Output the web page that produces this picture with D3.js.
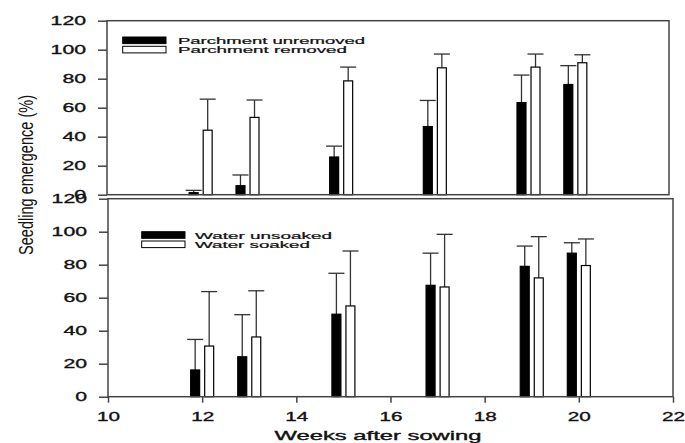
<!DOCTYPE html>
<html>
<head>
<meta charset="utf-8">
<script src="https://cdn.jsdelivr.net/npm/d3@7"></script>
<style>
  html, body { margin: 0; padding: 0; background: #fff; }
  svg { display: block; }
  text { font-family: "Liberation Sans", Arial, sans-serif; fill: #111; }
</style>
</head>
<body>
<svg id="chart" width="685" height="443"></svg>
<script>
// ---- Data ----
const weeks = [12, 13, 15, 17, 19, 20];
const yTicks = [0, 20, 40, 60, 80, 100, 120];
const xTicks = [10, 12, 14, 16, 18, 20, 22];

const parchUnremoved    = [1.4, 6.2, 26, 47, 63.5, 76];
const parchUnremovedErr = [1.6, 7.4, 7.5, 18, 19, 13];
const parchRemoved      = [44.5, 53.3, 78.5, 87.5, 88, 91];
const parchRemovedErr   = [21.4, 12, 9.5, 9.5, 9, 5.5];

const waterUnsoaked     = [16.2, 24.2, 50, 67.5, 79, 87];
const waterUnsoakedErr  = [18.5, 25.5, 24.8, 19.5, 12.3, 6.3];
const waterSoaked       = [30.7, 36.2, 55, 66.5, 72, 79.5];
const waterSoakedErr    = [33, 28, 33.3, 31.9, 25, 16.1];

const seriesNames = ["a", "b"];
const legendTop = ["Parchment unremoved", "Parchment removed"];
const legendBot = ["Water unsoaked", "Water soaked"];
const xTitle = "Weeks after sowing";
const yTitle = "Seedling emergence (%)";

// ---- Layout ----
const svg = d3.select("#chart");
const stroke = "#333";

const panels = [
  {
    x: d3.scaleLinear().domain([10, 22]).range([107, 669]),
    y: d3.scaleLinear().domain([0, 120]).range([194.7, 20.7]),
    series: [
      { vals: parchUnremoved, err: parchUnremovedErr, fill: "#000" },
      { vals: parchRemoved, err: parchRemovedErr, fill: "#fff" }
    ],
    legend: legendTop, legendX: 122.7, legendY: 37, textX: 178,
    legendLen: [187, 169],
    xAxis: false
  },
  {
    x: d3.scaleLinear().domain([10, 22]).range([108, 673]),
    y: d3.scaleLinear().domain([0, 120]).range([396.7, 198.7]),
    series: [
      { vals: waterUnsoaked, err: waterUnsoakedErr, fill: "#000" },
      { vals: waterSoaked, err: waterSoakedErr, fill: "#fff" }
    ],
    legend: legendBot, legendX: 141.7, legendY: 231.7, textX: 195,
    legendLen: [137, 115],
    xAxis: true
  }
];

const sub = d3.scaleBand().domain(seriesNames).range([-11.5, 11.5]).paddingInner(0.36);

function styleTickText(sel, perChar) {
  sel.style("font-size", "13px")
    .style("font-family", "'Liberation Sans', Arial, sans-serif")
    .attr("fill", "#111")
    .attr("stroke", "#111").attr("stroke-width", 0.35)
    .attr("textLength", d => String(d).length * perChar)
    .attr("lengthAdjust", "spacingAndGlyphs");
}

panels.forEach(p => {
  const g = svg.append("g");
  const [x0, x1] = p.x.range();
  const [y0, y1] = p.y.range();

  // bars + error bars
  p.series.forEach((s, si) => {
    const key = seriesNames[si];
    const gs = g.append("g");
    weeks.forEach((w, i) => {
      const bx = p.x(w) + sub(key);
      const bw = sub.bandwidth();
      const cx = bx + bw / 2;
      const top = p.y(s.vals[i]);
      const capY = p.y(s.vals[i] + s.err[i]);
      gs.append("line")
        .attr("x1", cx).attr("x2", cx).attr("y1", top).attr("y2", capY)
        .attr("stroke", stroke).attr("stroke-width", 1.3);
      gs.append("line")
        .attr("x1", cx - 8).attr("x2", cx + 8).attr("y1", capY).attr("y2", capY)
        .attr("stroke", stroke).attr("stroke-width", 1.3);
      gs.append("rect")
        .attr("x", bx).attr("y", top)
        .attr("width", bw).attr("height", p.y(0) - top)
        .attr("fill", s.fill).attr("stroke", "#000").attr("stroke-width", 1.2);
    });
  });

  // frame
  g.append("rect")
    .attr("x", x0).attr("y", y1)
    .attr("width", x1 - x0).attr("height", y0 - y1)
    .attr("fill", "none").attr("stroke", "#444").attr("stroke-width", 1.5);

  // y axis
  const ya = g.append("g").attr("transform", `translate(${x0},0)`)
    .call(d3.axisLeft(p.y).tickValues(yTicks).tickSize(9).tickPadding(12).tickSizeOuter(0));
  ya.select(".domain").remove();
  ya.selectAll(".tick line").attr("stroke", "#444").attr("stroke-width", 1.5);
  styleTickText(ya.selectAll(".tick text"), 11.8);

  // x axis
  if (p.xAxis) {
    const xa = g.append("g").attr("transform", `translate(0,${y0})`)
      .call(d3.axisBottom(p.x).tickValues(xTicks).tickSize(6).tickPadding(9.5).tickSizeOuter(0));
    xa.select(".domain").remove();
    xa.selectAll(".tick line").attr("stroke", "#444").attr("stroke-width", 1.5);
    styleTickText(xa.selectAll(".tick text"), 11.5);
  }

  // legend
  p.legend.forEach((name, i) => {
    const ly = p.legendY + i * 9.3;
    g.append("rect")
      .attr("x", p.legendX).attr("y", ly)
      .attr("width", 43.3).attr("height", 6.6)
      .attr("fill", p.series[i].fill).attr("stroke", "#000").attr("stroke-width", 1);
    g.append("text")
      .attr("x", p.textX).attr("y", ly + 6.8)
      .style("font-size", "8.2px")
      .attr("stroke", "#111").attr("stroke-width", 0.2)
      .attr("textLength", p.legendLen[i])
      .attr("lengthAdjust", "spacingAndGlyphs")
      .text(name);
  });
});

// axis titles
svg.append("text")
  .attr("x", 378).attr("y", 440)
  .attr("text-anchor", "middle")
  .style("font-size", "13px")
  .attr("stroke", "#111").attr("stroke-width", 0.35)
  .attr("textLength", 207).attr("lengthAdjust", "spacingAndGlyphs")
  .text(xTitle);

svg.append("text")
  .attr("transform", "translate(33,175) scale(1.5,1) rotate(-90)")
  .attr("text-anchor", "middle")
  .style("font-size", "14px")
  .attr("textLength", 160).attr("lengthAdjust", "spacingAndGlyphs")
  .text(yTitle);
</script>
</body>
</html>
